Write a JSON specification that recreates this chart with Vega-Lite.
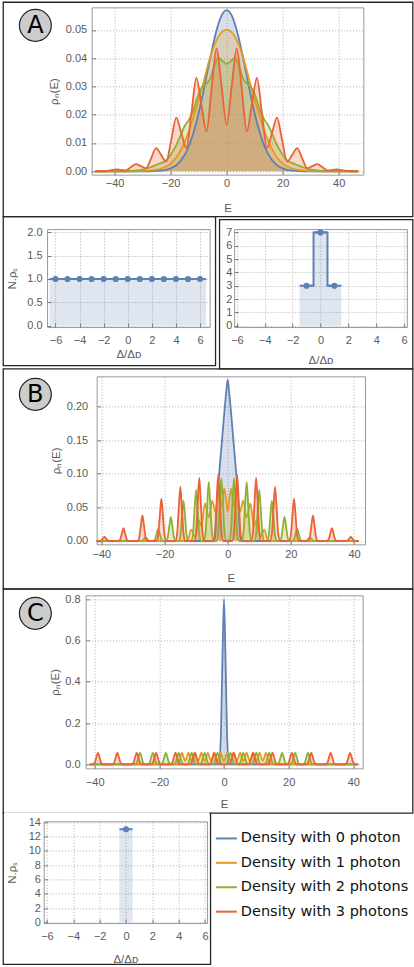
{
"$schema": "https://vega.github.io/schema/vega-lite/v6.json",
"background": "white",
"padding": {"left": 2.05, "top": 1.05, "right": 0, "bottom": 0},
"config": {
  "view": {"stroke": "#9a9a9a", "strokeWidth": 1},
  "axis": {"labelFont": "Liberation Sans", "labelFontSize": 11, "labelColor": "#5a5a5a", "titleFont": "Liberation Sans", "titleFontSize": 11.5, "titleFontWeight": "normal", "titleColor": "#5a5a5a", "domain": false, "grid": true, "gridColor": "#b0b0b0", "gridDash": [1, 2], "tickColor": "#7a7a7a", "tickSize": -4, "labelFlush": false, "labelOverlap": false, "labelBound": false}
},
"datasets": {
  "A": [
    {"E":-47,"v":0,"s":0},{"E":-40,"v":0,"s":0},{"E":-34,"v":0,"s":0},{"E":-30,"v":0,"s":0},{"E":-28,"v":0,"s":0},{"E":-26,"v":0.0001,"s":0},{"E":-24,"v":0.0002,"s":0},{"E":-22,"v":0.0004,"s":0},{"E":-20,"v":0.001,"s":0},{"E":-18,"v":0.0021,"s":0},{"E":-16,"v":0.0042,"s":0},{"E":-14,"v":0.0077,"s":0},{"E":-12,"v":0.0131,"s":0},{"E":-10,"v":0.0205,"s":0},{"E":-8,"v":0.0297,"s":0},{"E":-6,"v":0.0395,"s":0},{"E":-4,"v":0.0484,"s":0},{"E":-2,"v":0.0547,"s":0},{"E":0,"v":0.057,"s":0},{"E":2,"v":0.0547,"s":0},{"E":4,"v":0.0484,"s":0},{"E":6,"v":0.0395,"s":0},{"E":8,"v":0.0297,"s":0},{"E":10,"v":0.0205,"s":0},{"E":12,"v":0.0131,"s":0},{"E":14,"v":0.0077,"s":0},{"E":16,"v":0.0042,"s":0},{"E":18,"v":0.0021,"s":0},{"E":20,"v":0.001,"s":0},{"E":22,"v":0.0004,"s":0},{"E":24,"v":0.0002,"s":0},{"E":26,"v":0.0001,"s":0},{"E":28,"v":0,"s":0},{"E":30,"v":0,"s":0},{"E":34,"v":0,"s":0},{"E":40,"v":0,"s":0},{"E":47,"v":0,"s":0},
    {"E":-47,"v":0,"s":1},{"E":-40,"v":0,"s":1},{"E":-34,"v":0,"s":1},{"E":-30,"v":0.0001,"s":1},{"E":-28,"v":0.0002,"s":1},{"E":-26,"v":0.0004,"s":1},{"E":-24,"v":0.0008,"s":1},{"E":-22,"v":0.0015,"s":1},{"E":-20,"v":0.0027,"s":1},{"E":-18,"v":0.0049,"s":1},{"E":-16,"v":0.0082,"s":1},{"E":-14,"v":0.0128,"s":1},{"E":-12,"v":0.0188,"s":1},{"E":-10,"v":0.0255,"s":1},{"E":-8,"v":0.0325,"s":1},{"E":-6,"v":0.04,"s":1},{"E":-4,"v":0.0455,"s":1},{"E":-2,"v":0.049,"s":1},{"E":0,"v":0.0501,"s":1},{"E":2,"v":0.049,"s":1},{"E":4,"v":0.0455,"s":1},{"E":6,"v":0.04,"s":1},{"E":8,"v":0.0325,"s":1},{"E":10,"v":0.0255,"s":1},{"E":12,"v":0.0188,"s":1},{"E":14,"v":0.0128,"s":1},{"E":16,"v":0.0082,"s":1},{"E":18,"v":0.0049,"s":1},{"E":20,"v":0.0027,"s":1},{"E":22,"v":0.0015,"s":1},{"E":24,"v":0.0008,"s":1},{"E":26,"v":0.0004,"s":1},{"E":28,"v":0.0002,"s":1},{"E":30,"v":0.0001,"s":1},{"E":34,"v":0,"s":1},{"E":40,"v":0,"s":1},{"E":47,"v":0,"s":1},
    {"E":-47,"v":0,"s":2},{"E":-40,"v":0,"s":2},{"E":-36,"v":0,"s":2},{"E":-34,"v":0.0001,"s":2},{"E":-32,"v":0.0003,"s":2},{"E":-30,"v":0.0006,"s":2},{"E":-28.5,"v":0.001,"s":2},{"E":-27,"v":0.0015,"s":2},{"E":-25.5,"v":0.0021,"s":2},{"E":-24,"v":0.0027,"s":2},{"E":-22.5,"v":0.0033,"s":2},{"E":-21,"v":0.0045,"s":2},{"E":-19.5,"v":0.0066,"s":2},{"E":-18,"v":0.0092,"s":2},{"E":-16.5,"v":0.0126,"s":2},{"E":-15,"v":0.016,"s":2},{"E":-13.5,"v":0.0182,"s":2},{"E":-12,"v":0.0212,"s":2},{"E":-10.5,"v":0.026,"s":2},{"E":-9,"v":0.0294,"s":2},{"E":-7.5,"v":0.0308,"s":2},{"E":-6,"v":0.0325,"s":2},{"E":-4.5,"v":0.037,"s":2},{"E":-3,"v":0.0401,"s":2},{"E":-1.5,"v":0.039,"s":2},{"E":0,"v":0.038,"s":2},{"E":1.5,"v":0.039,"s":2},{"E":3,"v":0.0401,"s":2},{"E":4.5,"v":0.037,"s":2},{"E":6,"v":0.0325,"s":2},{"E":7.5,"v":0.0308,"s":2},{"E":9,"v":0.0294,"s":2},{"E":10.5,"v":0.026,"s":2},{"E":12,"v":0.0212,"s":2},{"E":13.5,"v":0.0182,"s":2},{"E":15,"v":0.016,"s":2},{"E":16.5,"v":0.0126,"s":2},{"E":18,"v":0.0092,"s":2},{"E":19.5,"v":0.0066,"s":2},{"E":21,"v":0.0045,"s":2},{"E":22.5,"v":0.0033,"s":2},{"E":24,"v":0.0027,"s":2},{"E":25.5,"v":0.0021,"s":2},{"E":27,"v":0.0015,"s":2},{"E":28.5,"v":0.001,"s":2},{"E":30,"v":0.0006,"s":2},{"E":32,"v":0.0003,"s":2},{"E":34,"v":0.0001,"s":2},{"E":36,"v":0,"s":2},{"E":40,"v":0,"s":2},{"E":47,"v":0,"s":2},
    {"E":-46.8,"v":0,"s":3},{"E":-45,"v":0,"s":3},{"E":-43.2,"v":0.0001,"s":3},{"E":-41.4,"v":0.0003,"s":3},{"E":-39.6,"v":0.0007,"s":3},{"E":-37.8,"v":0.0005,"s":3},{"E":-36,"v":0.0003,"s":3},{"E":-34.2,"v":0.0014,"s":3},{"E":-32.4,"v":0.0025,"s":3},{"E":-30.6,"v":0.0018,"s":3},{"E":-28.8,"v":0.0011,"s":3},{"E":-27,"v":0.0045,"s":3},{"E":-25.2,"v":0.0082,"s":3},{"E":-23.4,"v":0.0058,"s":3},{"E":-21.6,"v":0.0034,"s":3},{"E":-19.8,"v":0.011,"s":3},{"E":-18,"v":0.019,"s":3},{"E":-16.2,"v":0.0136,"s":3},{"E":-14.4,"v":0.0082,"s":3},{"E":-12.6,"v":0.0205,"s":3},{"E":-10.8,"v":0.033,"s":3},{"E":-9,"v":0.0235,"s":3},{"E":-7.2,"v":0.0141,"s":3},{"E":-5.4,"v":0.029,"s":3},{"E":-3.6,"v":0.0435,"s":3},{"E":-1.8,"v":0.03,"s":3},{"E":0,"v":0.0165,"s":3},{"E":1.8,"v":0.03,"s":3},{"E":3.6,"v":0.0435,"s":3},{"E":5.4,"v":0.029,"s":3},{"E":7.2,"v":0.0141,"s":3},{"E":9,"v":0.0235,"s":3},{"E":10.8,"v":0.033,"s":3},{"E":12.6,"v":0.0205,"s":3},{"E":14.4,"v":0.0082,"s":3},{"E":16.2,"v":0.0136,"s":3},{"E":18,"v":0.019,"s":3},{"E":19.8,"v":0.011,"s":3},{"E":21.6,"v":0.0034,"s":3},{"E":23.4,"v":0.0058,"s":3},{"E":25.2,"v":0.0082,"s":3},{"E":27,"v":0.0045,"s":3},{"E":28.8,"v":0.0011,"s":3},{"E":30.6,"v":0.0018,"s":3},{"E":32.4,"v":0.0025,"s":3},{"E":34.2,"v":0.0014,"s":3},{"E":36,"v":0.0003,"s":3},{"E":37.8,"v":0.0005,"s":3},{"E":39.6,"v":0.0007,"s":3},{"E":41.4,"v":0.0003,"s":3},{"E":43.2,"v":0.0001,"s":3},{"E":45,"v":0,"s":3},{"E":46.8,"v":0,"s":3}
  ],
  "B": [
    {"E":-41.5,"v":0,"s":0},{"E":-4.3,"v":0,"s":0},{"E":-3.9,"v":0.012,"s":0},{"E":-3.5,"v":0.05,"s":0},{"E":-2.7,"v":0.1,"s":0},{"E":-1.8,"v":0.15,"s":0},{"E":-0.9,"v":0.2,"s":0},{"E":-0.4,"v":0.225,"s":0},{"E":0,"v":0.24,"s":0},{"E":0.4,"v":0.225,"s":0},{"E":0.9,"v":0.2,"s":0},{"E":1.8,"v":0.15,"s":0},{"E":2.7,"v":0.1,"s":0},{"E":3.5,"v":0.05,"s":0},{"E":3.9,"v":0.012,"s":0},{"E":4.3,"v":0,"s":0},{"E":41.5,"v":0,"s":0},
    {"E":-41.5,"v":0,"s":1},{"E":-13.5,"v":0,"s":1},{"E":-12.5,"v":0.003,"s":1},{"E":-11.6,"v":0.017,"s":1},{"E":-10.3,"v":0.006,"s":1},{"E":-9.3,"v":0.032,"s":1},{"E":-8.3,"v":0.022,"s":1},{"E":-7.2,"v":0.056,"s":1},{"E":-6,"v":0.035,"s":1},{"E":-4.9,"v":0.06,"s":1},{"E":-3.8,"v":0.042,"s":1},{"E":-2.8,"v":0.068,"s":1},{"E":-1.9,"v":0.052,"s":1},{"E":-1.1,"v":0.078,"s":1},{"E":-0.5,"v":0.062,"s":1},{"E":0,"v":0.044,"s":1},{"E":0.5,"v":0.062,"s":1},{"E":1.1,"v":0.078,"s":1},{"E":1.9,"v":0.052,"s":1},{"E":2.8,"v":0.068,"s":1},{"E":3.8,"v":0.042,"s":1},{"E":4.9,"v":0.06,"s":1},{"E":6,"v":0.035,"s":1},{"E":7.2,"v":0.056,"s":1},{"E":8.3,"v":0.022,"s":1},{"E":9.3,"v":0.032,"s":1},{"E":10.3,"v":0.006,"s":1},{"E":11.6,"v":0.017,"s":1},{"E":12.5,"v":0.003,"s":1},{"E":13.5,"v":0,"s":1},{"E":41.5,"v":0,"s":1},
    {"E":-41.5,"v":0,"s":2},
    {"E":-27.6,"v":0,"s":2},{"E":-27,"v":0.0007,"s":2},{"E":-26.5,"v":0.003,"s":2},{"E":-26,"v":0.005,"s":2},{"E":-25.5,"v":0.003,"s":2},{"E":-25,"v":0.0007,"s":2},{"E":-24.4,"v":0,"s":2},
    {"E":-23.6,"v":0,"s":2},{"E":-23,"v":0.0025,"s":2},{"E":-22.5,"v":0.0108,"s":2},{"E":-22,"v":0.018,"s":2},{"E":-21.5,"v":0.0108,"s":2},{"E":-21,"v":0.0025,"s":2},{"E":-20.4,"v":0,"s":2},
    {"E":-19.6,"v":0,"s":2},{"E":-19,"v":0.005,"s":2},{"E":-18.5,"v":0.0216,"s":2},{"E":-18,"v":0.036,"s":2},{"E":-17.5,"v":0.0216,"s":2},{"E":-17,"v":0.005,"s":2},{"E":-16.4,"v":0,"s":2},
    {"E":-15.6,"v":0,"s":2},{"E":-15,"v":0.0084,"s":2},{"E":-14.5,"v":0.036,"s":2},{"E":-14,"v":0.06,"s":2},{"E":-13.5,"v":0.036,"s":2},{"E":-13,"v":0.0084,"s":2},{"E":-12.4,"v":0,"s":2},
    {"E":-11.6,"v":0,"s":2},{"E":-11,"v":0.0106,"s":2},{"E":-10.5,"v":0.0456,"s":2},{"E":-10,"v":0.076,"s":2},{"E":-9.5,"v":0.0456,"s":2},{"E":-9,"v":0.0106,"s":2},{"E":-8.4,"v":0,"s":2},
    {"E":-7.6,"v":0,"s":2},{"E":-7,"v":0.0123,"s":2},{"E":-6.5,"v":0.0528,"s":2},{"E":-6,"v":0.088,"s":2},{"E":-5.5,"v":0.0528,"s":2},{"E":-5,"v":0.0123,"s":2},{"E":-4.4,"v":0,"s":2},
    {"E":-3.6,"v":0,"s":2},{"E":-3,"v":0.013,"s":2},{"E":-2.5,"v":0.0558,"s":2},{"E":-2,"v":0.093,"s":2},{"E":-1.5,"v":0.0558,"s":2},{"E":-1,"v":0.013,"s":2},{"E":-0.4,"v":0,"s":2},
    {"E":0.4,"v":0,"s":2},{"E":1,"v":0.013,"s":2},{"E":1.5,"v":0.0558,"s":2},{"E":2,"v":0.093,"s":2},{"E":2.5,"v":0.0558,"s":2},{"E":3,"v":0.013,"s":2},{"E":3.6,"v":0,"s":2},
    {"E":4.4,"v":0,"s":2},{"E":5,"v":0.0123,"s":2},{"E":5.5,"v":0.0528,"s":2},{"E":6,"v":0.088,"s":2},{"E":6.5,"v":0.0528,"s":2},{"E":7,"v":0.0123,"s":2},{"E":7.6,"v":0,"s":2},
    {"E":8.4,"v":0,"s":2},{"E":9,"v":0.0106,"s":2},{"E":9.5,"v":0.0456,"s":2},{"E":10,"v":0.076,"s":2},{"E":10.5,"v":0.0456,"s":2},{"E":11,"v":0.0106,"s":2},{"E":11.6,"v":0,"s":2},
    {"E":12.4,"v":0,"s":2},{"E":13,"v":0.0084,"s":2},{"E":13.5,"v":0.036,"s":2},{"E":14,"v":0.06,"s":2},{"E":14.5,"v":0.036,"s":2},{"E":15,"v":0.0084,"s":2},{"E":15.6,"v":0,"s":2},
    {"E":16.4,"v":0,"s":2},{"E":17,"v":0.005,"s":2},{"E":17.5,"v":0.0216,"s":2},{"E":18,"v":0.036,"s":2},{"E":18.5,"v":0.0216,"s":2},{"E":19,"v":0.005,"s":2},{"E":19.6,"v":0,"s":2},
    {"E":20.4,"v":0,"s":2},{"E":21,"v":0.0025,"s":2},{"E":21.5,"v":0.0108,"s":2},{"E":22,"v":0.018,"s":2},{"E":22.5,"v":0.0108,"s":2},{"E":23,"v":0.0025,"s":2},{"E":23.6,"v":0,"s":2},
    {"E":24.4,"v":0,"s":2},{"E":25,"v":0.0007,"s":2},{"E":25.5,"v":0.003,"s":2},{"E":26,"v":0.005,"s":2},{"E":26.5,"v":0.003,"s":2},{"E":27,"v":0.0007,"s":2},{"E":27.6,"v":0,"s":2},
    {"E":41.5,"v":0,"s":2},
    {"E":-41.5,"v":0,"s":3},
    {"E":-40.6,"v":0,"s":3},{"E":-40,"v":0.0008,"s":3},{"E":-39.5,"v":0.0036,"s":3},{"E":-39,"v":0.006,"s":3},{"E":-38.5,"v":0.0036,"s":3},{"E":-38,"v":0.0008,"s":3},{"E":-37.4,"v":0,"s":3},
    {"E":-34.6,"v":0,"s":3},{"E":-34,"v":0.0027,"s":3},{"E":-33.5,"v":0.0114,"s":3},{"E":-33,"v":0.019,"s":3},{"E":-32.5,"v":0.0114,"s":3},{"E":-32,"v":0.0027,"s":3},{"E":-31.4,"v":0,"s":3},
    {"E":-28.6,"v":0,"s":3},{"E":-28,"v":0.0053,"s":3},{"E":-27.5,"v":0.0228,"s":3},{"E":-27,"v":0.038,"s":3},{"E":-26.5,"v":0.0228,"s":3},{"E":-26,"v":0.0053,"s":3},{"E":-25.4,"v":0,"s":3},
    {"E":-22.6,"v":0,"s":3},{"E":-22,"v":0.0088,"s":3},{"E":-21.5,"v":0.0378,"s":3},{"E":-21,"v":0.063,"s":3},{"E":-20.5,"v":0.0378,"s":3},{"E":-20,"v":0.0088,"s":3},{"E":-19.4,"v":0,"s":3},
    {"E":-16.6,"v":0,"s":3},{"E":-16,"v":0.0113,"s":3},{"E":-15.5,"v":0.0486,"s":3},{"E":-15,"v":0.081,"s":3},{"E":-14.5,"v":0.0486,"s":3},{"E":-14,"v":0.0113,"s":3},{"E":-13.4,"v":0,"s":3},
    {"E":-10.6,"v":0,"s":3},{"E":-10,"v":0.0132,"s":3},{"E":-9.5,"v":0.0564,"s":3},{"E":-9,"v":0.094,"s":3},{"E":-8.5,"v":0.0564,"s":3},{"E":-8,"v":0.0132,"s":3},{"E":-7.4,"v":0,"s":3},
    {"E":-4.6,"v":0,"s":3},{"E":-4,"v":0.0137,"s":3},{"E":-3.5,"v":0.0588,"s":3},{"E":-3,"v":0.098,"s":3},{"E":-2.5,"v":0.0588,"s":3},{"E":-2,"v":0.0137,"s":3},{"E":-1.4,"v":0,"s":3},
    {"E":1.4,"v":0,"s":3},{"E":2,"v":0.0137,"s":3},{"E":2.5,"v":0.0588,"s":3},{"E":3,"v":0.098,"s":3},{"E":3.5,"v":0.0588,"s":3},{"E":4,"v":0.0137,"s":3},{"E":4.6,"v":0,"s":3},
    {"E":7.4,"v":0,"s":3},{"E":8,"v":0.0132,"s":3},{"E":8.5,"v":0.0564,"s":3},{"E":9,"v":0.094,"s":3},{"E":9.5,"v":0.0564,"s":3},{"E":10,"v":0.0132,"s":3},{"E":10.6,"v":0,"s":3},
    {"E":13.4,"v":0,"s":3},{"E":14,"v":0.0113,"s":3},{"E":14.5,"v":0.0486,"s":3},{"E":15,"v":0.081,"s":3},{"E":15.5,"v":0.0486,"s":3},{"E":16,"v":0.0113,"s":3},{"E":16.6,"v":0,"s":3},
    {"E":19.4,"v":0,"s":3},{"E":20,"v":0.0088,"s":3},{"E":20.5,"v":0.0378,"s":3},{"E":21,"v":0.063,"s":3},{"E":21.5,"v":0.0378,"s":3},{"E":22,"v":0.0088,"s":3},{"E":22.6,"v":0,"s":3},
    {"E":25.4,"v":0,"s":3},{"E":26,"v":0.0053,"s":3},{"E":26.5,"v":0.0228,"s":3},{"E":27,"v":0.038,"s":3},{"E":27.5,"v":0.0228,"s":3},{"E":28,"v":0.0053,"s":3},{"E":28.6,"v":0,"s":3},
    {"E":31.4,"v":0,"s":3},{"E":32,"v":0.0027,"s":3},{"E":32.5,"v":0.0114,"s":3},{"E":33,"v":0.019,"s":3},{"E":33.5,"v":0.0114,"s":3},{"E":34,"v":0.0027,"s":3},{"E":34.6,"v":0,"s":3},
    {"E":37.4,"v":0,"s":3},{"E":38,"v":0.0008,"s":3},{"E":38.5,"v":0.0036,"s":3},{"E":39,"v":0.006,"s":3},{"E":39.5,"v":0.0036,"s":3},{"E":40,"v":0.0008,"s":3},{"E":40.6,"v":0,"s":3},
    {"E":41.5,"v":0,"s":3}
  ],
  "C": [
    {"E":-41.5,"v":0,"s":0},{"E":-1.6,"v":0,"s":0},{"E":-1,"v":0.12,"s":0},{"E":-0.5,"v":0.49,"s":0},{"E":0,"v":0.8,"s":0},{"E":0.5,"v":0.49,"s":0},{"E":1,"v":0.12,"s":0},{"E":1.6,"v":0,"s":0},{"E":41.5,"v":0,"s":0},
    {"E":-41.5,"v":0,"s":1},{"E":-15,"v":0,"s":1},{"E":-14.5,"v":0.001,"s":1},{"E":-14,"v":0.008,"s":1},{"E":-13.5,"v":0.035,"s":1},{"E":-13,"v":0.057,"s":1},{"E":-12.5,"v":0.035,"s":1},{"E":-12,"v":0.0155,"s":1},{"E":-11.5,"v":0.035,"s":1},{"E":-11,"v":0.057,"s":1},{"E":-10.5,"v":0.035,"s":1},{"E":-10,"v":0.0155,"s":1},{"E":-9.5,"v":0.035,"s":1},{"E":-9,"v":0.057,"s":1},{"E":-8.5,"v":0.035,"s":1},{"E":-8,"v":0.0155,"s":1},{"E":-7.5,"v":0.035,"s":1},{"E":-7,"v":0.057,"s":1},{"E":-6.5,"v":0.035,"s":1},{"E":-6,"v":0.0155,"s":1},{"E":-5.5,"v":0.035,"s":1},{"E":-5,"v":0.057,"s":1},{"E":-4.5,"v":0.035,"s":1},{"E":-4,"v":0.0155,"s":1},{"E":-3.5,"v":0.035,"s":1},{"E":-3,"v":0.057,"s":1},{"E":-2.5,"v":0.035,"s":1},{"E":-2,"v":0.0155,"s":1},{"E":-1.5,"v":0.035,"s":1},{"E":-1,"v":0.057,"s":1},{"E":-0.5,"v":0.035,"s":1},{"E":0,"v":0.0155,"s":1},{"E":0.5,"v":0.035,"s":1},{"E":1,"v":0.057,"s":1},{"E":1.5,"v":0.035,"s":1},{"E":2,"v":0.0155,"s":1},{"E":2.5,"v":0.035,"s":1},{"E":3,"v":0.057,"s":1},{"E":3.5,"v":0.035,"s":1},{"E":4,"v":0.0155,"s":1},{"E":4.5,"v":0.035,"s":1},{"E":5,"v":0.057,"s":1},{"E":5.5,"v":0.035,"s":1},{"E":6,"v":0.0155,"s":1},{"E":6.5,"v":0.035,"s":1},{"E":7,"v":0.057,"s":1},{"E":7.5,"v":0.035,"s":1},{"E":8,"v":0.0155,"s":1},{"E":8.5,"v":0.035,"s":1},{"E":9,"v":0.057,"s":1},{"E":9.5,"v":0.035,"s":1},{"E":10,"v":0.0155,"s":1},{"E":10.5,"v":0.035,"s":1},{"E":11,"v":0.057,"s":1},{"E":11.5,"v":0.035,"s":1},{"E":12,"v":0.0155,"s":1},{"E":12.5,"v":0.035,"s":1},{"E":13,"v":0.057,"s":1},{"E":13.5,"v":0.035,"s":1},{"E":14,"v":0.008,"s":1},{"E":14.5,"v":0.001,"s":1},{"E":15,"v":0,"s":1},{"E":41.5,"v":0,"s":1},
    {"E":-41.5,"v":0,"s":2},
    {"E":-27.6,"v":0,"s":2},{"E":-27,"v":0.008,"s":2},{"E":-26.5,"v":0.034,"s":2},{"E":-26,"v":0.057,"s":2},{"E":-25.5,"v":0.034,"s":2},{"E":-25,"v":0.008,"s":2},{"E":-24.4,"v":0,"s":2},
    {"E":-23.6,"v":0,"s":2},{"E":-23,"v":0.008,"s":2},{"E":-22.5,"v":0.034,"s":2},{"E":-22,"v":0.057,"s":2},{"E":-21.5,"v":0.034,"s":2},{"E":-21,"v":0.008,"s":2},{"E":-20.4,"v":0,"s":2},
    {"E":-19.6,"v":0,"s":2},{"E":-19,"v":0.008,"s":2},{"E":-18.5,"v":0.034,"s":2},{"E":-18,"v":0.057,"s":2},{"E":-17.5,"v":0.034,"s":2},{"E":-17,"v":0.008,"s":2},{"E":-16.4,"v":0,"s":2},
    {"E":-15.6,"v":0,"s":2},{"E":-15,"v":0.008,"s":2},{"E":-14.5,"v":0.034,"s":2},{"E":-14,"v":0.057,"s":2},{"E":-13.5,"v":0.034,"s":2},{"E":-13,"v":0.008,"s":2},{"E":-12.4,"v":0,"s":2},
    {"E":-11.6,"v":0,"s":2},{"E":-11,"v":0.008,"s":2},{"E":-10.5,"v":0.034,"s":2},{"E":-10,"v":0.057,"s":2},{"E":-9.5,"v":0.034,"s":2},{"E":-9,"v":0.008,"s":2},{"E":-8.4,"v":0,"s":2},
    {"E":-7.6,"v":0,"s":2},{"E":-7,"v":0.008,"s":2},{"E":-6.5,"v":0.034,"s":2},{"E":-6,"v":0.057,"s":2},{"E":-5.5,"v":0.034,"s":2},{"E":-5,"v":0.008,"s":2},{"E":-4.4,"v":0,"s":2},
    {"E":-3.6,"v":0,"s":2},{"E":-3,"v":0.008,"s":2},{"E":-2.5,"v":0.034,"s":2},{"E":-2,"v":0.057,"s":2},{"E":-1.5,"v":0.034,"s":2},{"E":-1,"v":0.008,"s":2},{"E":-0.4,"v":0,"s":2},
    {"E":0.4,"v":0,"s":2},{"E":1,"v":0.008,"s":2},{"E":1.5,"v":0.034,"s":2},{"E":2,"v":0.057,"s":2},{"E":2.5,"v":0.034,"s":2},{"E":3,"v":0.008,"s":2},{"E":3.6,"v":0,"s":2},
    {"E":4.4,"v":0,"s":2},{"E":5,"v":0.008,"s":2},{"E":5.5,"v":0.034,"s":2},{"E":6,"v":0.057,"s":2},{"E":6.5,"v":0.034,"s":2},{"E":7,"v":0.008,"s":2},{"E":7.6,"v":0,"s":2},
    {"E":8.4,"v":0,"s":2},{"E":9,"v":0.008,"s":2},{"E":9.5,"v":0.034,"s":2},{"E":10,"v":0.057,"s":2},{"E":10.5,"v":0.034,"s":2},{"E":11,"v":0.008,"s":2},{"E":11.6,"v":0,"s":2},
    {"E":12.4,"v":0,"s":2},{"E":13,"v":0.008,"s":2},{"E":13.5,"v":0.034,"s":2},{"E":14,"v":0.057,"s":2},{"E":14.5,"v":0.034,"s":2},{"E":15,"v":0.008,"s":2},{"E":15.6,"v":0,"s":2},
    {"E":16.4,"v":0,"s":2},{"E":17,"v":0.008,"s":2},{"E":17.5,"v":0.034,"s":2},{"E":18,"v":0.057,"s":2},{"E":18.5,"v":0.034,"s":2},{"E":19,"v":0.008,"s":2},{"E":19.6,"v":0,"s":2},
    {"E":20.4,"v":0,"s":2},{"E":21,"v":0.008,"s":2},{"E":21.5,"v":0.034,"s":2},{"E":22,"v":0.057,"s":2},{"E":22.5,"v":0.034,"s":2},{"E":23,"v":0.008,"s":2},{"E":23.6,"v":0,"s":2},
    {"E":24.4,"v":0,"s":2},{"E":25,"v":0.008,"s":2},{"E":25.5,"v":0.034,"s":2},{"E":26,"v":0.057,"s":2},{"E":26.5,"v":0.034,"s":2},{"E":27,"v":0.008,"s":2},{"E":27.6,"v":0,"s":2},
    {"E":41.5,"v":0,"s":2},
    {"E":-41.5,"v":0,"s":3},
    {"E":-40.6,"v":0,"s":3},{"E":-40,"v":0.008,"s":3},{"E":-39.5,"v":0.034,"s":3},{"E":-39,"v":0.057,"s":3},{"E":-38.5,"v":0.034,"s":3},{"E":-38,"v":0.008,"s":3},{"E":-37.4,"v":0,"s":3},
    {"E":-34.6,"v":0,"s":3},{"E":-34,"v":0.008,"s":3},{"E":-33.5,"v":0.034,"s":3},{"E":-33,"v":0.057,"s":3},{"E":-32.5,"v":0.034,"s":3},{"E":-32,"v":0.008,"s":3},{"E":-31.4,"v":0,"s":3},
    {"E":-28.6,"v":0,"s":3},{"E":-28,"v":0.008,"s":3},{"E":-27.5,"v":0.034,"s":3},{"E":-27,"v":0.057,"s":3},{"E":-26.5,"v":0.034,"s":3},{"E":-26,"v":0.008,"s":3},{"E":-25.4,"v":0,"s":3},
    {"E":-22.6,"v":0,"s":3},{"E":-22,"v":0.008,"s":3},{"E":-21.5,"v":0.034,"s":3},{"E":-21,"v":0.057,"s":3},{"E":-20.5,"v":0.034,"s":3},{"E":-20,"v":0.008,"s":3},{"E":-19.4,"v":0,"s":3},
    {"E":-16.6,"v":0,"s":3},{"E":-16,"v":0.008,"s":3},{"E":-15.5,"v":0.034,"s":3},{"E":-15,"v":0.057,"s":3},{"E":-14.5,"v":0.034,"s":3},{"E":-14,"v":0.008,"s":3},{"E":-13.4,"v":0,"s":3},
    {"E":-10.6,"v":0,"s":3},{"E":-10,"v":0.008,"s":3},{"E":-9.5,"v":0.034,"s":3},{"E":-9,"v":0.057,"s":3},{"E":-8.5,"v":0.034,"s":3},{"E":-8,"v":0.008,"s":3},{"E":-7.4,"v":0,"s":3},
    {"E":-4.6,"v":0,"s":3},{"E":-4,"v":0.008,"s":3},{"E":-3.5,"v":0.034,"s":3},{"E":-3,"v":0.057,"s":3},{"E":-2.5,"v":0.034,"s":3},{"E":-2,"v":0.008,"s":3},{"E":-1.4,"v":0,"s":3},
    {"E":1.4,"v":0,"s":3},{"E":2,"v":0.008,"s":3},{"E":2.5,"v":0.034,"s":3},{"E":3,"v":0.057,"s":3},{"E":3.5,"v":0.034,"s":3},{"E":4,"v":0.008,"s":3},{"E":4.6,"v":0,"s":3},
    {"E":7.4,"v":0,"s":3},{"E":8,"v":0.008,"s":3},{"E":8.5,"v":0.034,"s":3},{"E":9,"v":0.057,"s":3},{"E":9.5,"v":0.034,"s":3},{"E":10,"v":0.008,"s":3},{"E":10.6,"v":0,"s":3},
    {"E":13.4,"v":0,"s":3},{"E":14,"v":0.008,"s":3},{"E":14.5,"v":0.034,"s":3},{"E":15,"v":0.057,"s":3},{"E":15.5,"v":0.034,"s":3},{"E":16,"v":0.008,"s":3},{"E":16.6,"v":0,"s":3},
    {"E":19.4,"v":0,"s":3},{"E":20,"v":0.008,"s":3},{"E":20.5,"v":0.034,"s":3},{"E":21,"v":0.057,"s":3},{"E":21.5,"v":0.034,"s":3},{"E":22,"v":0.008,"s":3},{"E":22.6,"v":0,"s":3},
    {"E":25.4,"v":0,"s":3},{"E":26,"v":0.008,"s":3},{"E":26.5,"v":0.034,"s":3},{"E":27,"v":0.057,"s":3},{"E":27.5,"v":0.034,"s":3},{"E":28,"v":0.008,"s":3},{"E":28.6,"v":0,"s":3},
    {"E":31.4,"v":0,"s":3},{"E":32,"v":0.008,"s":3},{"E":32.5,"v":0.034,"s":3},{"E":33,"v":0.057,"s":3},{"E":33.5,"v":0.034,"s":3},{"E":34,"v":0.008,"s":3},{"E":34.6,"v":0,"s":3},
    {"E":37.4,"v":0,"s":3},{"E":38,"v":0.008,"s":3},{"E":38.5,"v":0.034,"s":3},{"E":39,"v":0.057,"s":3},{"E":39.5,"v":0.034,"s":3},{"E":40,"v":0.008,"s":3},{"E":40.6,"v":0,"s":3},
    {"E":41.5,"v":0,"s":3}
  ],
  "s1": [
    {"d":-6,"lo":-6.5,"hi":-5.5,"n":1},{"d":-5,"lo":-5.5,"hi":-4.5,"n":1},{"d":-4,"lo":-4.5,"hi":-3.5,"n":1},{"d":-3,"lo":-3.5,"hi":-2.5,"n":1},{"d":-2,"lo":-2.5,"hi":-1.5,"n":1},{"d":-1,"lo":-1.5,"hi":-0.5,"n":1},{"d":0,"lo":-0.5,"hi":0.5,"n":1},{"d":1,"lo":0.5,"hi":1.5,"n":1},{"d":2,"lo":1.5,"hi":2.5,"n":1},{"d":3,"lo":2.5,"hi":3.5,"n":1},{"d":4,"lo":3.5,"hi":4.5,"n":1},{"d":5,"lo":4.5,"hi":5.5,"n":1},{"d":6,"lo":5.5,"hi":6.5,"n":1}
  ],
  "s2": [
    {"d":-1,"lo":-1.5,"hi":-0.5,"n":3},{"d":0,"lo":-0.5,"hi":0.5,"n":7},{"d":1,"lo":0.5,"hi":1.5,"n":3}
  ],
  "s3": [
    {"d":0,"lo":-0.5,"hi":0.5,"n":13}
  ],
  "leg": [
    {"s":0,"t":"Density with 0 photon"},{"s":1,"t":"Density with 1 photon"},{"s":2,"t":"Density with 2 photons"},{"s":3,"t":"Density with 3 photons"}
  ],
  "none": []
},
"columns": 1,
"align": "none",
"spacing": -1.7,
"concat": [
  {"columns": 1, "align": "none", "spacing": -211.7, "concat": [
    {"width": 409.6, "height": 214.3, "view": {"stroke": "#262626", "strokeWidth": 1.3}, "data": {"name": "none"}, "mark": "point"},
    {"spacing": -6.4, "hconcat": [
      {"width": 10, "height": 36, "view": {"stroke": null}, "data": {"values": [{"label": "A"}]},
       "layer": [
         {"mark": {"type": "point", "shape": "circle", "filled": true, "fill": "#cccccc", "stroke": "#222222", "strokeWidth": 1.2, "size": 1018, "opacity": 1, "xOffset": 27.3}, "encoding": {}},
         {"mark": {"type": "text", "fontSize": 24, "font": "DejaVu Sans", "color": "#000000", "align": "center", "baseline": "middle", "dy": 1, "xOffset": 27.3}, "encoding": {"text": {"field": "label"}}}
       ]},
      {"width": 271.7, "height": 167.3, "data": {"name": "A"},
       "encoding": {
         "x": {"field": "E", "type": "quantitative", "scale": {"domain": [-48.2, 48.8], "nice": false, "zero": false}, "axis": {"values": [-40,-20,0,20,40], "title": "E", "labelPadding": 6.65, "titlePadding": 14}},
         "y": {"field": "v", "type": "quantitative", "scale": {"domain": [-0.0012, 0.058], "nice": false, "zero": false}, "axis": {"values": [0,0.01,0.02,0.03,0.04,0.05], "format": ".2f", "title": "ρₙ(E)", "labelPadding": 9, "titlePadding": 5.4}},
         "color": {"field": "s", "type": "nominal", "scale": {"domain": [0,1,2,3], "range": ["#5E81B5","#E19C24","#8FB032","#EB6235"]}, "legend": null}
       },
       "layer": [
         {"mark": {"type": "area", "interpolate": "monotone", "fillOpacity": 0.25}, "encoding": {"y2": {"datum": 0}}},
         {"mark": {"type": "line", "interpolate": "monotone", "strokeWidth": 1.8}, "encoding": {}}
       ]}
    ]}
  ]},
  {"columns": 1, "align": "none", "spacing": -144.3, "concat": [
    {"spacing": 2.3, "hconcat": [
      {"width": 212.3, "height": 149, "view": {"stroke": "#262626", "strokeWidth": 1.3}, "data": {"name": "none"}, "mark": "point"},
      {"columns": 1, "align": "none", "spacing": 1, "concat": [
        {"width": 1, "height": 1, "view": {"stroke": null}, "data": {"name": "none"}, "mark": "point"},
        {"width": 193.3, "height": 149.3, "view": {"stroke": "#262626", "strokeWidth": 1.3}, "data": {"name": "none"}, "mark": "point"}
      ]}
    ]},
    {"spacing": 1, "hconcat": [
      {"width": 1, "height": 1, "view": {"stroke": null}, "data": {"name": "none"}, "mark": "point"},
      {"spacing": 14.1, "hconcat": [
        {"width": 162.6, "height": 98, "data": {"name": "s1"},
         "layer": [
           {"mark": {"type": "rect", "color": "#5E81B5", "opacity": 0.2}, "encoding": {
             "x": {"field": "lo", "type": "quantitative", "scale": {"domain": [-6.7, 6.8], "nice": false, "zero": false}, "axis": {"values": [-6,-4,-2,0,2,4,6], "title": "Δ/Δᴅ", "labelPadding": 11.85, "titlePadding": 2.45}},
             "x2": {"field": "hi"},
             "y": {"field": "n", "type": "quantitative", "scale": {"domain": [-0.03, 2.07], "nice": false, "zero": false}, "axis": {"values": [0,0.5,1,1.5,2], "format": ".1f", "title": "N.ρₛ", "labelPadding": 9, "titlePadding": 9.4}},
             "y2": {"datum": 0}}},
           {"mark": {"type": "rule", "color": "#5E81B5", "strokeWidth": 2}, "encoding": {
             "x": {"field": "lo", "type": "quantitative", "scale": {"domain": [-6.7, 6.8], "nice": false, "zero": false}, "axis": {"values": [-6,-4,-2,0,2,4,6], "title": "Δ/Δᴅ", "labelPadding": 11.85, "titlePadding": 2.45}},
             "x2": {"field": "hi"},
             "y": {"field": "n", "type": "quantitative", "scale": {"domain": [-0.03, 2.07], "nice": false, "zero": false}, "axis": {"values": [0,0.5,1,1.5,2], "format": ".1f", "title": "N.ρₛ", "labelPadding": 9, "titlePadding": 9.4}}}},
           {"mark": {"type": "line", "interpolate": "step", "color": "#5E81B5", "strokeWidth": 2}, "encoding": {
             "x": {"field": "d", "type": "quantitative", "scale": {"domain": [-6.7, 6.8], "nice": false, "zero": false}, "axis": {"values": [-6,-4,-2,0,2,4,6], "title": "Δ/Δᴅ", "labelPadding": 11.85, "titlePadding": 2.45}},
             "y": {"field": "n", "type": "quantitative", "scale": {"domain": [-0.03, 2.07], "nice": false, "zero": false}, "axis": {"values": [0,0.5,1,1.5,2], "format": ".1f", "title": "N.ρₛ", "labelPadding": 9, "titlePadding": 9.4}}}},
           {"mark": {"type": "point", "filled": true, "color": "#5E81B5", "size": 38, "opacity": 1}, "encoding": {
             "x": {"field": "d", "type": "quantitative", "scale": {"domain": [-6.7, 6.8], "nice": false, "zero": false}, "axis": {"values": [-6,-4,-2,0,2,4,6], "title": "Δ/Δᴅ", "labelPadding": 11.85, "titlePadding": 2.45}},
             "y": {"field": "n", "type": "quantitative", "scale": {"domain": [-0.03, 2.07], "nice": false, "zero": false}, "axis": {"values": [0,0.5,1,1.5,2], "format": ".1f", "title": "N.ρₛ", "labelPadding": 9, "titlePadding": 9.4}}}}
         ]},
        {"width": 172.7, "height": 98, "data": {"name": "s2"},
         "layer": [
           {"mark": {"type": "rect", "color": "#5E81B5", "opacity": 0.2}, "encoding": {
             "x": {"field": "lo", "type": "quantitative", "scale": {"domain": [-6.2, 6.2], "nice": false, "zero": false}, "axis": {"values": [-6,-4,-2,0,2,4,6], "title": "Δ/Δᴅ", "labelPadding": 11.85, "titlePadding": 8.75}},
             "x2": {"field": "hi"},
             "y": {"field": "n", "type": "quantitative", "scale": {"domain": [-0.1, 7.25], "nice": false, "zero": false}, "axis": {"values": [0,1,2,3,4,5,6,7], "title": null, "labelPadding": 6.3}},
             "y2": {"datum": 0}}},
           {"mark": {"type": "rule", "color": "#5E81B5", "strokeWidth": 2}, "encoding": {
             "x": {"field": "lo", "type": "quantitative", "scale": {"domain": [-6.2, 6.2], "nice": false, "zero": false}, "axis": {"values": [-6,-4,-2,0,2,4,6], "title": "Δ/Δᴅ", "labelPadding": 11.85, "titlePadding": 8.75}},
             "x2": {"field": "hi"},
             "y": {"field": "n", "type": "quantitative", "scale": {"domain": [-0.1, 7.25], "nice": false, "zero": false}, "axis": {"values": [0,1,2,3,4,5,6,7], "title": null, "labelPadding": 6.3}}}},
           {"mark": {"type": "line", "interpolate": "step", "color": "#5E81B5", "strokeWidth": 2}, "encoding": {
             "x": {"field": "d", "type": "quantitative", "scale": {"domain": [-6.2, 6.2], "nice": false, "zero": false}, "axis": {"values": [-6,-4,-2,0,2,4,6], "title": "Δ/Δᴅ", "labelPadding": 11.85, "titlePadding": 8.75}},
             "y": {"field": "n", "type": "quantitative", "scale": {"domain": [-0.1, 7.25], "nice": false, "zero": false}, "axis": {"values": [0,1,2,3,4,5,6,7], "title": null, "labelPadding": 6.3}}}},
           {"mark": {"type": "point", "filled": true, "color": "#5E81B5", "size": 38, "opacity": 1}, "encoding": {
             "x": {"field": "d", "type": "quantitative", "scale": {"domain": [-6.2, 6.2], "nice": false, "zero": false}, "axis": {"values": [-6,-4,-2,0,2,4,6], "title": "Δ/Δᴅ", "labelPadding": 11.85, "titlePadding": 8.75}},
             "y": {"field": "n", "type": "quantitative", "scale": {"domain": [-0.1, 7.25], "nice": false, "zero": false}, "axis": {"values": [0,1,2,3,4,5,6,7], "title": null, "labelPadding": 6.3}}}}
         ]}
      ]}
    ]}
  ]},
  {"columns": 1, "align": "none", "spacing": -214.3, "concat": [
    {"width": 409.6, "height": 220, "view": {"stroke": "#262626", "strokeWidth": 1.3}, "data": {"name": "none"}, "mark": "point"},
    {"spacing": -4.4, "hconcat": [
      {"width": 10, "height": 36, "view": {"stroke": null}, "data": {"values": [{"label": "B"}]},
       "layer": [
         {"mark": {"type": "point", "shape": "circle", "filled": true, "fill": "#cccccc", "stroke": "#222222", "strokeWidth": 1.2, "size": 1018, "opacity": 1, "xOffset": 27.3}, "encoding": {}},
         {"mark": {"type": "text", "fontSize": 24, "font": "DejaVu Sans", "color": "#000000", "align": "center", "baseline": "middle", "dy": 1, "xOffset": 27.3}, "encoding": {"text": {"field": "label"}}}
       ]},
      {"width": 268.4, "height": 168, "data": {"name": "B"},
       "encoding": {
         "x": {"field": "E", "type": "quantitative", "scale": {"domain": [-41.5, 43.5], "nice": false, "zero": false}, "axis": {"values": [-40,-20,0,20,40], "title": "E", "labelPadding": 7.95, "titlePadding": 13.5}},
         "y": {"field": "v", "type": "quantitative", "scale": {"domain": [-0.005, 0.245], "nice": false, "zero": false}, "axis": {"values": [0,0.05,0.1,0.15,0.2], "format": ".2f", "title": "ρₙ(E)", "labelPadding": 13, "titlePadding": 4.4}},
         "color": {"field": "s", "type": "nominal", "scale": {"domain": [0,1,2,3], "range": ["#5E81B5","#E19C24","#8FB032","#EB6235"]}, "legend": null}
       },
       "layer": [
         {"mark": {"type": "area", "interpolate": "monotone", "fillOpacity": 0.25}, "encoding": {"y2": {"datum": 0}}},
         {"mark": {"type": "line", "interpolate": "monotone", "strokeWidth": 1.8}, "encoding": {}}
       ]}
    ]}
  ]},
  {"columns": 1, "align": "none", "spacing": -221.6, "concat": [
    {"width": 409.6, "height": 224, "view": {"stroke": "#262626", "strokeWidth": 1.3}, "data": {"name": "none"}, "mark": "point"},
    {"spacing": -5.4, "hconcat": [
      {"width": 10, "height": 36, "view": {"stroke": null}, "data": {"values": [{"label": "C"}]},
       "layer": [
         {"mark": {"type": "point", "shape": "circle", "filled": true, "fill": "#cccccc", "stroke": "#222222", "strokeWidth": 1.2, "size": 1018, "opacity": 1, "xOffset": 27.3}, "encoding": {}},
         {"mark": {"type": "text", "fontSize": 24, "font": "DejaVu Sans", "color": "#000000", "align": "center", "baseline": "middle", "dy": 1, "xOffset": 27.3}, "encoding": {"text": {"field": "label"}}}
       ]},
      {"width": 277, "height": 173, "data": {"name": "C"},
       "encoding": {
         "x": {"field": "E", "type": "quantitative", "scale": {"domain": [-42.8, 42.9], "nice": false, "zero": false}, "axis": {"values": [-40,-20,0,20,40], "title": "E", "labelPadding": 11.95, "titlePadding": 11.05}},
         "y": {"field": "v", "type": "quantitative", "scale": {"domain": [-0.019, 0.819], "nice": false, "zero": false}, "axis": {"values": [0,0.2,0.4,0.6,0.8], "format": ".1f", "title": "ρₙ(E)", "labelPadding": 9.6, "titlePadding": 4.4}},
         "color": {"field": "s", "type": "nominal", "scale": {"domain": [0,1,2,3], "range": ["#5E81B5","#E19C24","#8FB032","#EB6235"]}, "legend": null}
       },
       "layer": [
         {"mark": {"type": "area", "interpolate": "monotone", "fillOpacity": 0.25}, "encoding": {"y2": {"datum": 0}}},
         {"mark": {"type": "line", "interpolate": "monotone", "strokeWidth": 1.8}, "encoding": {}}
       ]}
    ]}
  ]},
  {"columns": 1, "align": "none", "spacing": -149.9, "concat": [
    {"columns": 1, "align": "none", "spacing": -152.9, "concat": [
      {"width": 207.3, "height": 151, "view": {"stroke": "#262626", "strokeWidth": 1.3}, "data": {"name": "none"}, "mark": "point"},
      {"spacing": -0.2, "hconcat": [
        {"width": 1, "height": 1, "view": {"stroke": null}, "data": {"name": "none"}, "mark": "point"},
        {"width": 205.5, "height": 2.4, "view": {"stroke": null, "fill": "white"}, "data": {"name": "none"}, "mark": "point"}
      ]}
    ]},
    {"spacing": 0.6, "hconcat": [
      {"width": 1, "height": 1, "view": {"stroke": null}, "data": {"name": "none"}, "mark": "point"},
      {"spacing": 2.7, "hconcat": [
        {"width": 163.4, "height": 101.7, "data": {"name": "s3"},
         "layer": [
           {"mark": {"type": "rect", "color": "#5E81B5", "opacity": 0.2}, "encoding": {
             "x": {"field": "lo", "type": "quantitative", "scale": {"domain": [-6.25, 6.15], "nice": false, "zero": false}, "axis": {"values": [-6,-4,-2,0,2,4,6], "title": "Δ/Δᴅ", "labelPadding": 11.55, "titlePadding": 11.45}},
             "x2": {"field": "hi"},
             "y": {"field": "n", "type": "quantitative", "scale": {"domain": [-0.1, 14.1], "nice": false, "zero": false}, "axis": {"values": [0,2,4,6,8,10,12,14], "title": "N.ρₛ", "labelPadding": 7.3, "titlePadding": 11.1}},
             "y2": {"datum": 0}}},
           {"mark": {"type": "rule", "color": "#5E81B5", "strokeWidth": 2}, "encoding": {
             "x": {"field": "lo", "type": "quantitative", "scale": {"domain": [-6.25, 6.15], "nice": false, "zero": false}, "axis": {"values": [-6,-4,-2,0,2,4,6], "title": "Δ/Δᴅ", "labelPadding": 11.55, "titlePadding": 11.45}},
             "x2": {"field": "hi"},
             "y": {"field": "n", "type": "quantitative", "scale": {"domain": [-0.1, 14.1], "nice": false, "zero": false}, "axis": {"values": [0,2,4,6,8,10,12,14], "title": "N.ρₛ", "labelPadding": 7.3, "titlePadding": 11.1}}}},
           {"mark": {"type": "point", "filled": true, "color": "#5E81B5", "size": 38, "opacity": 1}, "encoding": {
             "x": {"field": "d", "type": "quantitative", "scale": {"domain": [-6.25, 6.15], "nice": false, "zero": false}, "axis": {"values": [-6,-4,-2,0,2,4,6], "title": "Δ/Δᴅ", "labelPadding": 11.55, "titlePadding": 11.45}},
             "y": {"field": "n", "type": "quantitative", "scale": {"domain": [-0.1, 14.1], "nice": false, "zero": false}, "axis": {"values": [0,2,4,6,8,10,12,14], "title": "N.ρₛ", "labelPadding": 7.3, "titlePadding": 11.1}}}}
         ]},
        {"width": 22, "height": 107.4, "view": {"stroke": null}, "data": {"name": "leg"},
         "encoding": {"y": {"field": "t", "type": "nominal", "sort": null, "axis": null, "scale": {"type": "point", "padding": 0.7}}},
         "layer": [
           {"mark": {"type": "point", "shape": "stroke", "size": 441, "strokeWidth": 2, "filled": false, "opacity": 1}, "encoding": {"color": {"field": "s", "type": "nominal", "scale": {"domain": [0,1,2,3], "range": ["#5E81B5","#E19C24","#8FB032","#EB6235"]}, "legend": null}}},
           {"mark": {"type": "text", "align": "left", "baseline": "middle", "dx": 14.5, "fontSize": 14.5, "font": "DejaVu Sans", "color": "#111111"}, "encoding": {"text": {"field": "t"}}}
         ]}
      ]}
    ]}
  ]}
]
}
